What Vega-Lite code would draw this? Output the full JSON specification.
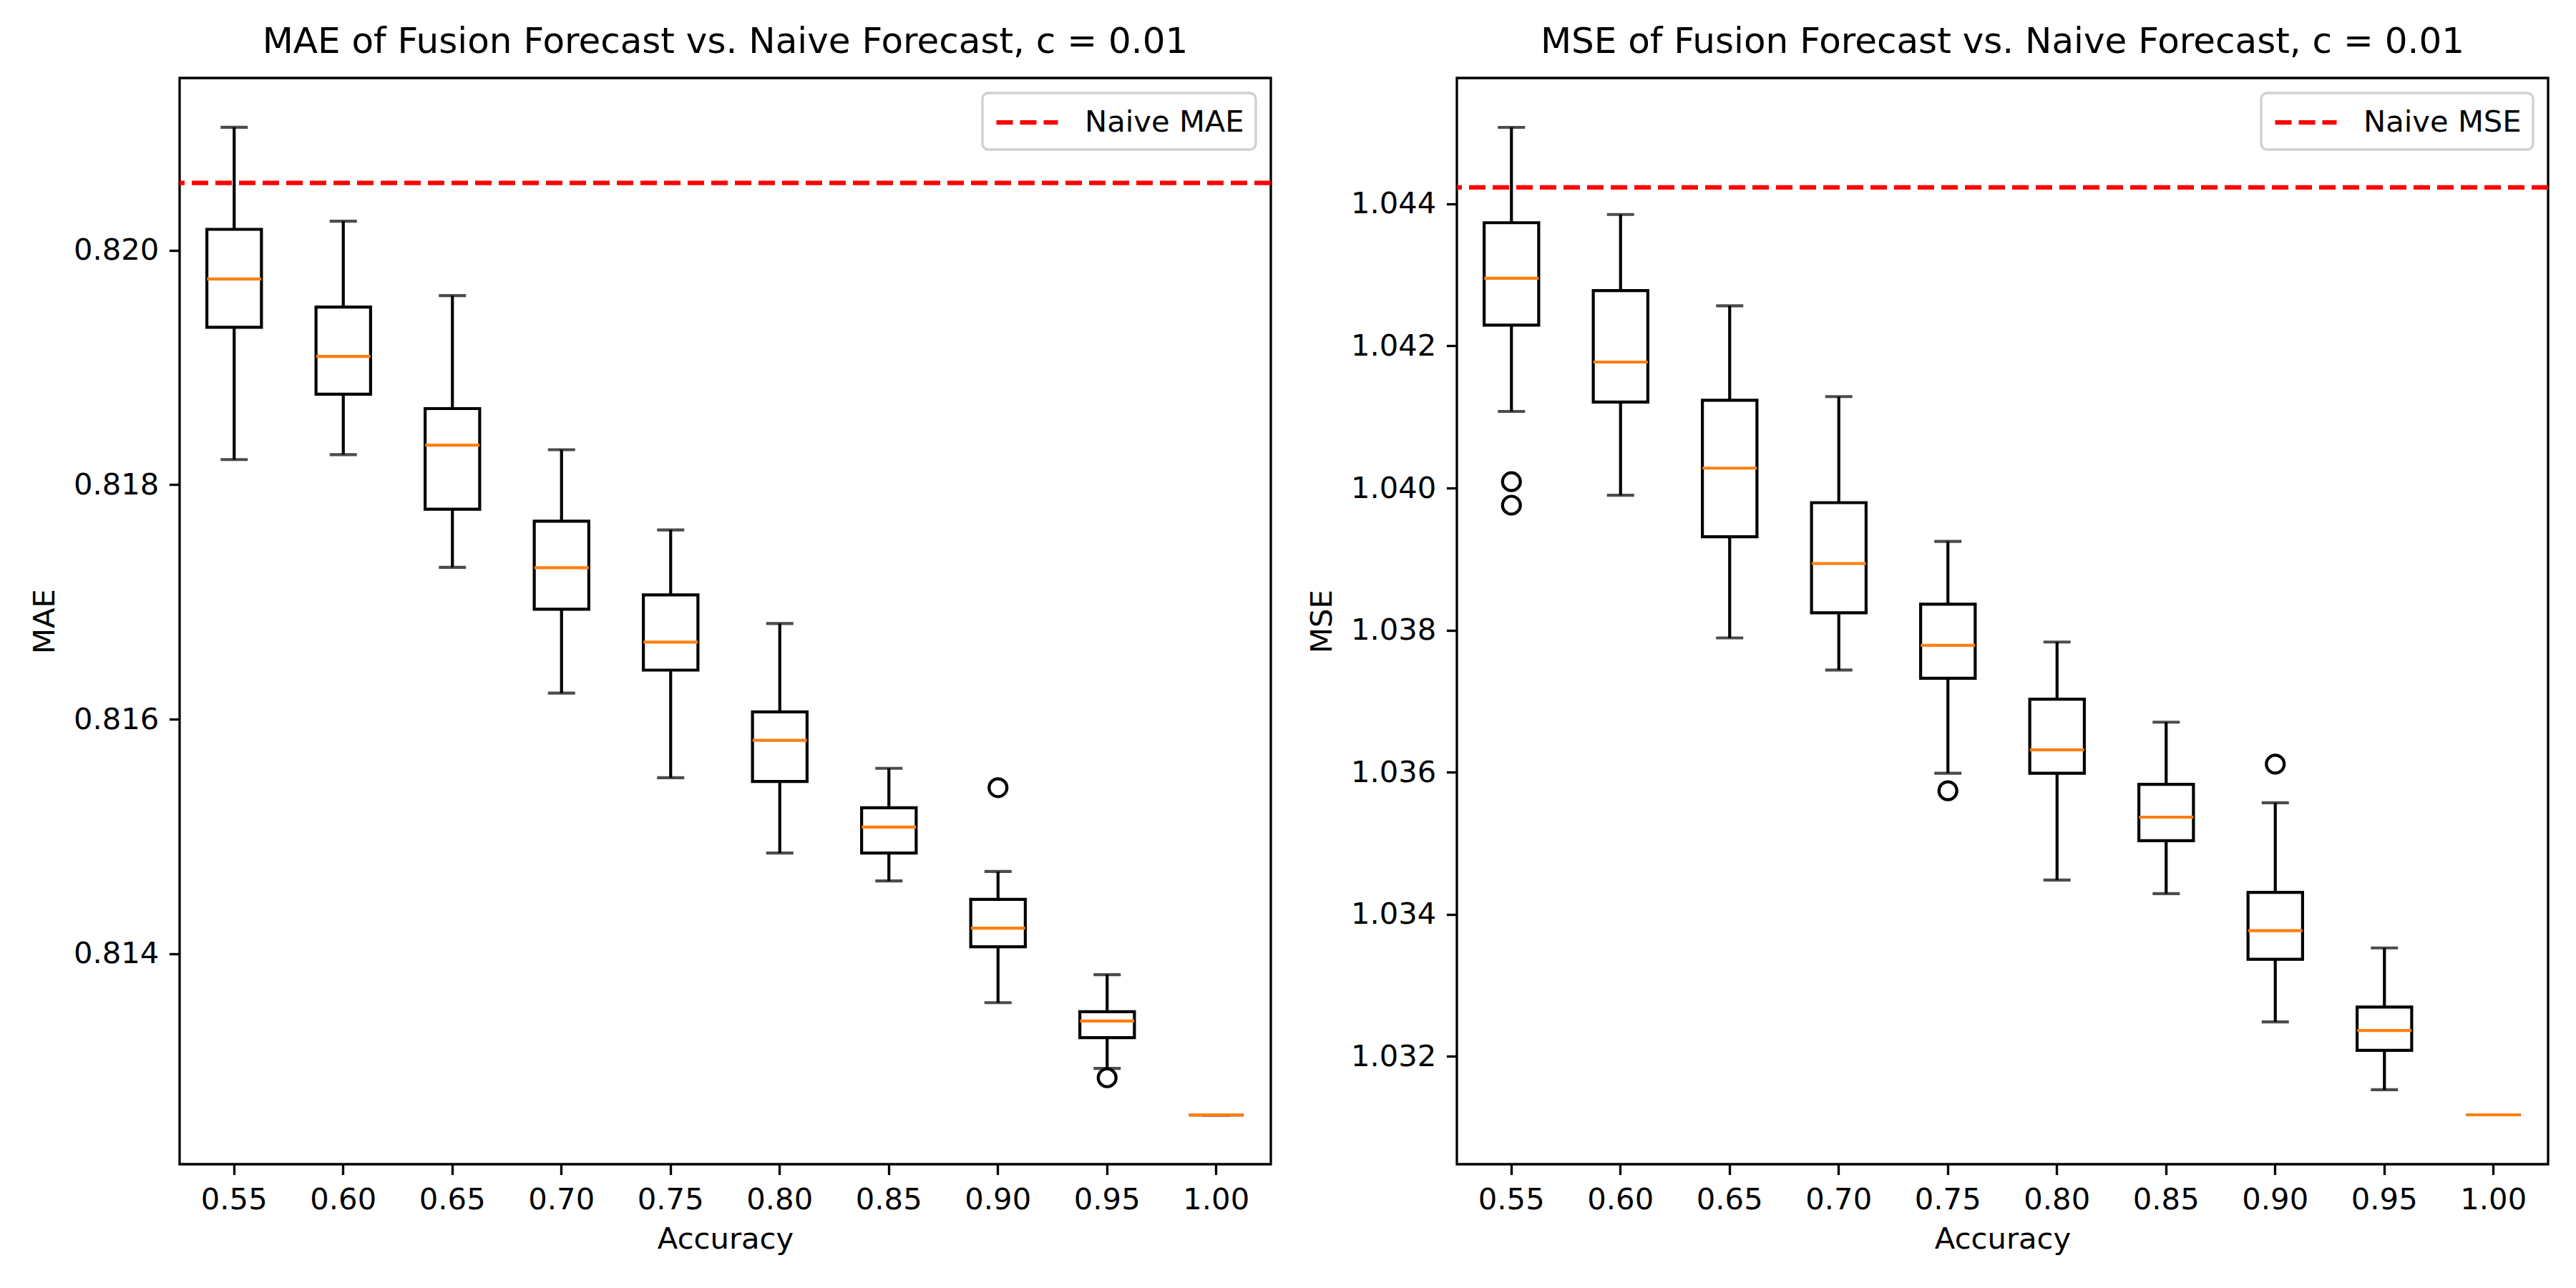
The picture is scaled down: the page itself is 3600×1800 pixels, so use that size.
{
  "$schema": "https://vega.github.io/schema/vega-lite/v6.json",
  "background": "white",
  "padding": {"left": 40, "top": 32, "right": 0, "bottom": 0},
  "config": {
    "font": "DejaVu Sans",
    "view": {"stroke": "black", "strokeWidth": 3.33},
    "axis": {"domain": false, "grid": false, "ticks": true, "tickColor": "black", "tickWidth": 3.33, "tickSize": 14.6,
      "labelFont": "DejaVu Sans", "labelFontSize": 41.7, "labelColor": "black", "labelPadding": 14.6,
      "titleFont": "DejaVu Sans", "titleFontSize": 41.7, "titleFontWeight": "normal", "titleColor": "black"},
    "title": {"font": "DejaVu Sans", "fontSize": 50, "fontWeight": "normal", "color": "black", "offset": 25, "anchor": "middle"},
    "legend": {"title": null, "orient": "top-right", "offset": 21, "symbolType": "M-1,0H3", "symbolStrokeWidth": 6.25,
      "symbolDash": [23, 10], "symbolSize": 1849, "labelFont": "DejaVu Sans", "labelFontSize": 41.7, "labelColor": "black",
      "labelOffset": 77, "labelLimit": 1000, "padding": 16, "fillColor": "white", "strokeColor": "#d0d0d0", "cornerRadius": 8, "strokeWidth": 3.3}
  },
  "datasets": {
    "mae_box": [
      {"acc": "0.55", "lo": 0.818215, "q1": 0.819344, "med": 0.819755, "q3": 0.820179, "hi": 0.821049},
      {"acc": "0.60", "lo": 0.818257, "q1": 0.818773, "med": 0.819095, "q3": 0.819516, "hi": 0.820249},
      {"acc": "0.65", "lo": 0.817296, "q1": 0.817791, "med": 0.818338, "q3": 0.818650, "hi": 0.819614},
      {"acc": "0.70", "lo": 0.816223, "q1": 0.816938, "med": 0.817293, "q3": 0.817689, "hi": 0.818299},
      {"acc": "0.75", "lo": 0.815501, "q1": 0.816419, "med": 0.816658, "q3": 0.817061, "hi": 0.817615},
      {"acc": "0.80", "lo": 0.814859, "q1": 0.815469, "med": 0.815820, "q3": 0.816062, "hi": 0.816816},
      {"acc": "0.85", "lo": 0.814620, "q1": 0.814859, "med": 0.815080, "q3": 0.815245, "hi": 0.815581},
      {"acc": "0.90", "lo": 0.813582, "q1": 0.814059, "med": 0.814217, "q3": 0.814463, "hi": 0.814701},
      {"acc": "0.95", "lo": 0.813021, "q1": 0.813284, "med": 0.813425, "q3": 0.813505, "hi": 0.813821},
      {"acc": "1.00", "lo": 0.812625, "q1": 0.812625, "med": 0.812625, "q3": 0.812625, "hi": 0.812625}
    ],
    "mae_out": [
      {"acc": "0.90", "value": 0.815416},
      {"acc": "0.95", "value": 0.812941}
    ],
    "mae_naive": [{"label": "Naive MAE", "value": 0.820575}],
    "mse_box": [
      {"acc": "0.55", "lo": 1.041078, "q1": 1.042293, "med": 1.042953, "q3": 1.043734, "hi": 1.045076},
      {"acc": "0.60", "lo": 1.039898, "q1": 1.041211, "med": 1.041773, "q3": 1.042779, "hi": 1.043850},
      {"acc": "0.65", "lo": 1.037891, "q1": 1.039314, "med": 1.040280, "q3": 1.041235, "hi": 1.042565},
      {"acc": "0.70", "lo": 1.037439, "q1": 1.038244, "med": 1.038938, "q3": 1.039794, "hi": 1.041287},
      {"acc": "0.75", "lo": 1.035987, "q1": 1.037324, "med": 1.037787, "q3": 1.038365, "hi": 1.039250},
      {"acc": "0.80", "lo": 1.034483, "q1": 1.035987, "med": 1.036317, "q3": 1.037029, "hi": 1.037833},
      {"acc": "0.85", "lo": 1.034292, "q1": 1.035038, "med": 1.035368, "q3": 1.035831, "hi": 1.036705},
      {"acc": "0.90", "lo": 1.032487, "q1": 1.033367, "med": 1.033771, "q3": 1.034310, "hi": 1.035571},
      {"acc": "0.95", "lo": 1.031532, "q1": 1.032087, "med": 1.032365, "q3": 1.032695, "hi": 1.033528},
      {"acc": "1.00", "lo": 1.031179, "q1": 1.031179, "med": 1.031179, "q3": 1.031179, "hi": 1.031179}
    ],
    "mse_out": [
      {"acc": "0.55", "value": 1.040089},
      {"acc": "0.55", "value": 1.039759},
      {"acc": "0.75", "value": 1.035739},
      {"acc": "0.90", "value": 1.036115}
    ],
    "mse_naive": [{"label": "Naive MSE", "value": 1.044231}]
  },
  "spacing": 44,
  "resolve": {"scale": {"color": "independent", "y": "independent"}, "legend": {"color": "independent"}},
  "hconcat": [
    {
      "width": 1525, "height": 1518,
      "title": {"text": "MAE of Fusion Forecast vs. Naive Forecast, c = 0.01"},
      "layer": [
        {"data": {"name": "mae_box"}, "mark": {"type": "rule", "stroke": "black", "strokeWidth": 4.2},
          "encoding": {
            "x": {"field": "acc", "type": "ordinal", "scale": {"type": "band", "paddingInner": 0, "paddingOuter": 0},
              "axis": {"labelAngle": 0, "title": "Accuracy", "titlePadding": 14}},
            "y": {"field": "lo", "type": "quantitative", "scale": {"domain": [0.812204, 0.82147], "nice": false, "zero": false},
              "axis": {"values": [0.814, 0.816, 0.818, 0.82], "format": ".3f", "title": "MAE", "titlePadding": 18}},
            "y2": {"field": "hi"}}},
        {"data": {"name": "mae_box"}, "mark": {"type": "tick", "color": "black", "size": 38, "thickness": 4.2},
          "encoding": {"x": {"field": "acc", "type": "ordinal"}, "y": {"field": "lo", "type": "quantitative"}}},
        {"data": {"name": "mae_box"}, "mark": {"type": "tick", "color": "black", "size": 38, "thickness": 4.2},
          "encoding": {"x": {"field": "acc", "type": "ordinal"}, "y": {"field": "hi", "type": "quantitative"}}},
        {"data": {"name": "mae_box"}, "mark": {"type": "bar", "fill": "white", "stroke": "black", "strokeWidth": 4.2, "width": {"band": 0.5}},
          "encoding": {"x": {"field": "acc", "type": "ordinal"}, "y": {"field": "q1", "type": "quantitative"}, "y2": {"field": "q3"}}},
        {"data": {"name": "mae_box"}, "mark": {"type": "tick", "color": "#ff7f0e", "size": 76, "thickness": 4.2, "opacity": 1},
          "encoding": {"x": {"field": "acc", "type": "ordinal"}, "y": {"field": "med", "type": "quantitative"}}},
        {"data": {"name": "mae_out"}, "mark": {"type": "point", "shape": "circle", "filled": false, "stroke": "black", "strokeWidth": 4.2, "size": 625, "opacity": 1},
          "encoding": {"x": {"field": "acc", "type": "ordinal"}, "y": {"field": "value", "type": "quantitative"}}},
        {"data": {"name": "mae_naive"}, "mark": {"type": "rule", "strokeWidth": 6.25, "strokeDash": [23, 10]},
          "encoding": {"y": {"field": "value", "type": "quantitative"},
            "color": {"field": "label", "type": "nominal", "scale": {"range": ["red"]}, "legend": {"title": null}}}}
      ]
    },
    {
      "width": 1525, "height": 1518,
      "title": {"text": "MSE of Fusion Forecast vs. Naive Forecast, c = 0.01"},
      "layer": [
        {"data": {"name": "mse_box"}, "mark": {"type": "rule", "stroke": "black", "strokeWidth": 4.2},
          "encoding": {
            "x": {"field": "acc", "type": "ordinal", "scale": {"type": "band", "paddingInner": 0, "paddingOuter": 0},
              "axis": {"labelAngle": 0, "title": "Accuracy", "titlePadding": 14}},
            "y": {"field": "lo", "type": "quantitative", "scale": {"domain": [1.030484, 1.045771], "nice": false, "zero": false},
              "axis": {"values": [1.032, 1.034, 1.036, 1.038, 1.04, 1.042, 1.044], "format": ".3f", "title": "MSE", "titlePadding": 18}},
            "y2": {"field": "hi"}}},
        {"data": {"name": "mse_box"}, "mark": {"type": "tick", "color": "black", "size": 38, "thickness": 4.2},
          "encoding": {"x": {"field": "acc", "type": "ordinal"}, "y": {"field": "lo", "type": "quantitative"}}},
        {"data": {"name": "mse_box"}, "mark": {"type": "tick", "color": "black", "size": 38, "thickness": 4.2},
          "encoding": {"x": {"field": "acc", "type": "ordinal"}, "y": {"field": "hi", "type": "quantitative"}}},
        {"data": {"name": "mse_box"}, "mark": {"type": "bar", "fill": "white", "stroke": "black", "strokeWidth": 4.2, "width": {"band": 0.5}},
          "encoding": {"x": {"field": "acc", "type": "ordinal"}, "y": {"field": "q1", "type": "quantitative"}, "y2": {"field": "q3"}}},
        {"data": {"name": "mse_box"}, "mark": {"type": "tick", "color": "#ff7f0e", "size": 76, "thickness": 4.2, "opacity": 1},
          "encoding": {"x": {"field": "acc", "type": "ordinal"}, "y": {"field": "med", "type": "quantitative"}}},
        {"data": {"name": "mse_out"}, "mark": {"type": "point", "shape": "circle", "filled": false, "stroke": "black", "strokeWidth": 4.2, "size": 625, "opacity": 1},
          "encoding": {"x": {"field": "acc", "type": "ordinal"}, "y": {"field": "value", "type": "quantitative"}}},
        {"data": {"name": "mse_naive"}, "mark": {"type": "rule", "strokeWidth": 6.25, "strokeDash": [23, 10]},
          "encoding": {"y": {"field": "value", "type": "quantitative"},
            "color": {"field": "label", "type": "nominal", "scale": {"range": ["red"]}, "legend": {"title": null}}}}
      ]
    }
  ]
}
